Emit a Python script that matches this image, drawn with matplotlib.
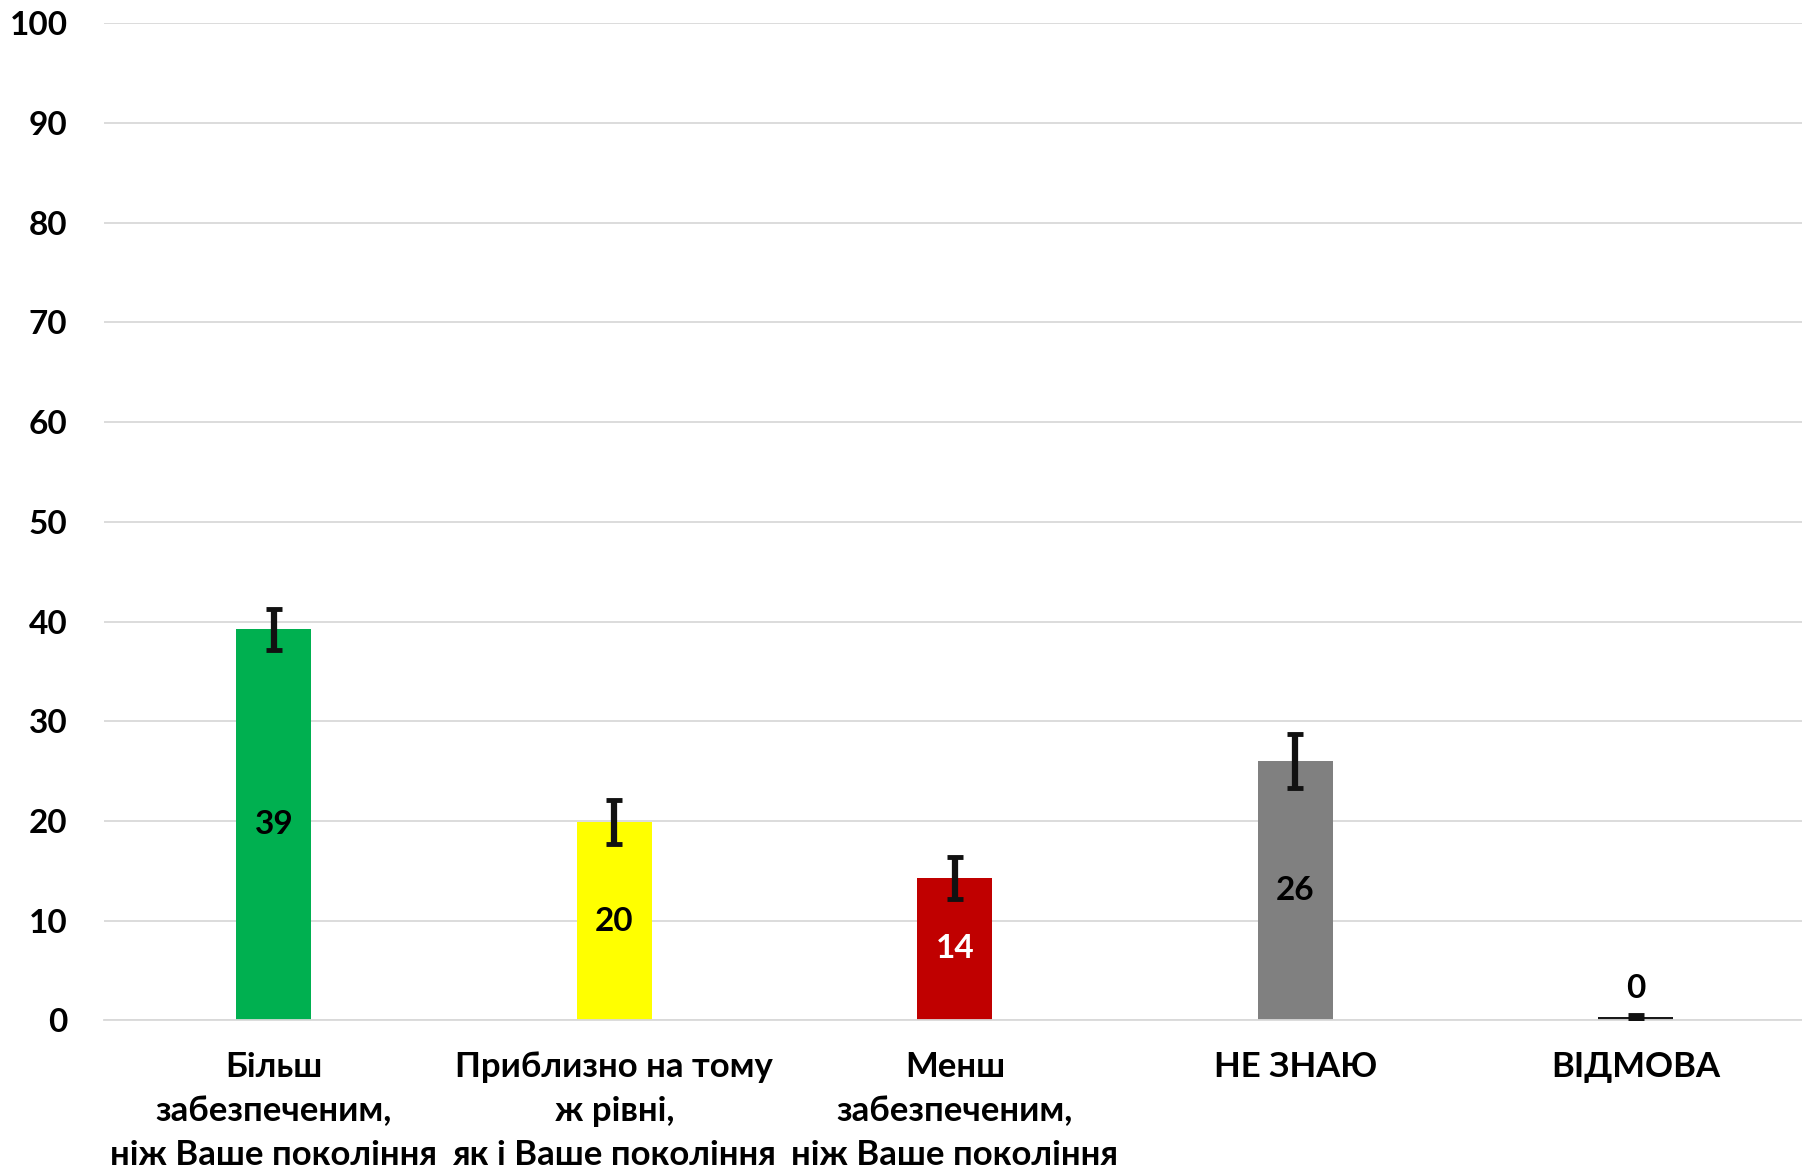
import matplotlib.pyplot as plt

plt.rcParams['font.family'] = ['Lato', 'DejaVu Sans']

categories = ["Більш\nзабезпеченим,\nніж Ваше покоління",
              "Приблизно на тому\nж рівні,\nяк і Ваше покоління",
              "Менш\nзабезпеченим,\nніж Ваше покоління",
              "НЕ ЗНАЮ",
              "ВІДМОВА"]
values = [39.2, 19.9, 14.3, 26.0, 0.3]
errors = [2.1, 2.2, 2.1, 2.7, 0.2]
labels = ["39", "20", "14", "26", "0"]
colors = ["#00b050", "#ffff00", "#c00000", "#808080", "#1a1a1a"]
label_colors = ["black", "black", "white", "black", "black"]

fig = plt.figure(figsize=(18.02, 11.74), dpi=100)
ax = fig.add_axes([0.0575, 0.131, 0.9448, 0.849])

x = range(len(values))
ax.bar(x, values, width=0.22, color=colors, zorder=2)
ax.errorbar(x, values, yerr=errors, fmt='none', ecolor='#111111',
            elinewidth=4.5, capsize=6, capthick=3.5, zorder=3)

for i, v in enumerate(values):
    if v > 3:
        ax.text(i, v / 2, labels[i], ha='center', va='center', fontsize=24,
                fontweight='bold', color=label_colors[i], zorder=4)
    else:
        ax.text(i, v + 1.4, labels[i], ha='center', va='bottom', fontsize=24,
                fontweight='bold', color=label_colors[i], zorder=4)

ax.set_ylim(0, 100)
ax.set_xlim(-0.5, 4.5)
ax.set_yticks(range(0, 101, 10))
ax.set_xticks(list(x))
ax.set_xticklabels(categories, fontsize=25, fontweight='bold', linespacing=1.46)
ax.tick_params(axis='y', labelsize=24, length=0, pad=26)
ax.tick_params(axis='x', length=0, pad=22)
for lab in ax.get_yticklabels():
    lab.set_fontweight('bold')

ax.grid(axis='y', color='#d9d9d9', linewidth=1.3, zorder=0)
for s in ['top', 'right', 'left']:
    ax.spines[s].set_visible(False)
ax.spines['bottom'].set_color('#d9d9d9')
ax.spines['bottom'].set_linewidth(1.3)

fig.savefig("out.png", dpi=100)
